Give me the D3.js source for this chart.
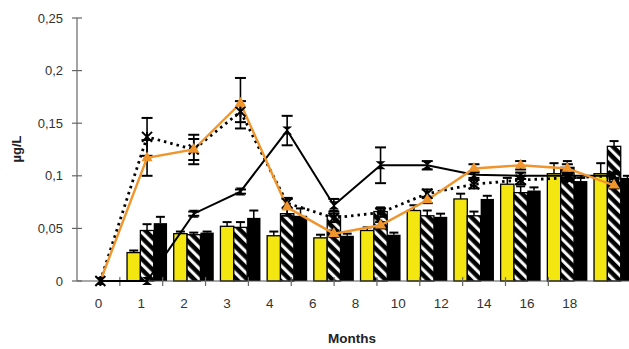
<!DOCTYPE html>
<html>
<head>
<meta charset="utf-8">
<script src="https://cdn.jsdelivr.net/npm/d3@7"></script>
<style>
body{margin:0;background:#fff;}
text{font-family:"Liberation Sans",Arial,sans-serif;}
</style>
</head>
<body>
<div id="canvas"></div>
<script>
var w = 629;
var h = 349;

// categories (months)
var months = ["0","1","2","3","4","6","8","10","12","14","16","18"];
var yTicks = [0, 0.05, 0.1, 0.15, 0.2, 0.25];

// bar series
var yellowVals = [0, 0.027, 0.045, 0.052, 0.043, 0.041, 0.048, 0.067, 0.078, 0.092, 0.102, 0.102];
var yellowErr  = [0, 0.002, 0.002, 0.004, 0.004, 0.003, 0.003, 0.005, 0.005, 0.006, 0.010, 0.010];
var hatchVals  = [0, 0.048, 0.044, 0.051, 0.064, 0.062, 0.066, 0.062, 0.062, 0.084, 0.108, 0.128];
var hatchErr   = [0, 0.006, 0.002, 0.005, 0.006, 0.005, 0.004, 0.005, 0.004, 0.006, 0.006, 0.005];
var blackVals  = [0, 0.055, 0.046, 0.060, 0.062, 0.043, 0.044, 0.061, 0.078, 0.086, 0.095, 0.098];
var blackErr   = [0, 0.006, 0.001, 0.007, 0.007, 0.002, 0.002, 0.003, 0.003, 0.003, 0.003, 0.002];

// line series
var orangeVals = [0, 0.117, 0.125, 0.169, 0.070, 0.045, 0.053, 0.077, 0.107, 0.110, 0.107, 0.091];
var orangeErr  = [0, 0.017, 0.014, 0.024, 0.008, 0.003, 0.003, 0.003, 0.004, 0.004, 0.004, 0.003];
var dottedVals = [0, 0.137, 0.125, 0.161, 0.074, 0.060, 0.065, 0.083, 0.092, 0.096, 0.098, 0.100];
var dottedErr  = [0, 0.018, 0.010, 0.010, 0.005, 0.004, 0.004, 0.004, 0.004, 0.004, 0.003, 0.003];
var solidVals  = [0, 0, 0.064, 0.085, 0.143, 0.072, 0.110, 0.110, 0.101, 0.100, 0.100, 0.100];
var solidErr   = [0, 0, 0.002, 0.002, 0.014, 0.006, 0.017, 0.004, 0.003, 0.003, 0.002, 0.002];

var axisX = 77;
var baseY = 281;
var topY = 18;

var svg = d3.select("#canvas").append("svg")
	.attr("width", w)
	.attr("height", h)
	.style("display","block");

// black bar with white "\" stripes
var defs = svg.append("defs");
var pat = defs.append("pattern")
	.attr("id","hatch")
	.attr("patternUnits","userSpaceOnUse")
	.attr("width",7.5)
	.attr("height",7.5)
	.attr("patternTransform","rotate(-45)");
pat.append("rect").attr("width",7.5).attr("height",7.5).attr("fill","#000");
pat.append("rect").attr("x",2).attr("width",3).attr("height",7.5).attr("fill","#fff");

// scales
var yScale = d3.scaleLinear().domain([0, 0.25]).range([baseY, topY]);
// data sits on a slightly wider band than the printed axis labels
var xData = d3.scaleBand().domain(months).range([axisX, axisX + 12*46.7]);
var xLab = d3.scaleBand().domain(months).range([axisX, axisX + 12*42.85]);
var xSub = d3.scaleBand().domain(["y","h","b"]).range([0, xData.bandwidth()]).paddingOuter(0.25);

var barData = [];
months.forEach(function(m, i){
	barData.push({m:m, s:"y", v:yellowVals[i], e:yellowErr[i]});
	barData.push({m:m, s:"h", v:hatchVals[i], e:hatchErr[i]});
	barData.push({m:m, s:"b", v:blackVals[i], e:blackErr[i]});
});
barData = barData.filter(function(d){ return d.v > 0; });

var fills = {y:"#f3e611", h:"url(#hatch)", b:"#000"};

// error bars behind bars
var bw = xSub.bandwidth();
var eb = svg.append("g");
barData.forEach(function(d){
	var cx = xData(d.m) + xSub(d.s) + bw/2;
	var y1 = yScale(d.v + d.e);
	eb.append("line").attr("x1",cx).attr("x2",cx).attr("y1",yScale(d.v)).attr("y2",y1)
		.attr("stroke","#000").attr("stroke-width",1.5);
	eb.append("line").attr("x1",cx-4.5).attr("x2",cx+4.5).attr("y1",y1).attr("y2",y1)
		.attr("stroke","#000").attr("stroke-width",2);
});

svg.append("g").selectAll("rect")
	.data(barData)
	.join("rect")
	.attr("x", function(d){ return xData(d.m) + xSub(d.s); })
	.attr("y", function(d){ return yScale(d.v); })
	.attr("width", bw)
	.attr("height", function(d){ return baseY - yScale(d.v); })
	.attr("fill", function(d){ return fills[d.s]; })
	.attr("stroke", function(d){ return d.s == "b" ? "none" : "#000"; })
	.attr("stroke-width", 1.3);

// axes
svg.append("line").attr("x1",axisX).attr("x2",axisX).attr("y1",topY).attr("y2",baseY)
	.attr("stroke","#666").attr("stroke-width",1.2);
svg.append("line").attr("x1",axisX).attr("x2",w).attr("y1",baseY).attr("y2",baseY)
	.attr("stroke","#555").attr("stroke-width",1.2);

var yAxisG = svg.append("g");
yTicks.forEach(function(t){
	var y = yScale(t);
	yAxisG.append("line").attr("x1",axisX-5).attr("x2",axisX+5).attr("y1",y).attr("y2",y)
		.attr("stroke","#666").attr("stroke-width",1.2);
	yAxisG.append("text").attr("x",63).attr("y",y+4.5)
		.attr("text-anchor","end").attr("font-size",13).attr("fill","#333")
		.text(d3.format(".2~f")(t).replace(".", ","));
});

var xAxisG = svg.append("g");
months.forEach(function(m, i){
	if(i > 0){
		var tx = xLab(m);
		xAxisG.append("line").attr("x1",tx).attr("x2",tx).attr("y1",baseY-4).attr("y2",baseY+5)
			.attr("stroke","#666").attr("stroke-width",1.2);
	}
	xAxisG.append("text").attr("x",xLab(m)+xLab.bandwidth()/2).attr("y",308)
		.attr("text-anchor","middle").attr("font-size",13.5).attr("fill","#333")
		.text(m);
});

svg.append("text").attr("x",352).attr("y",343).attr("text-anchor","middle")
	.attr("font-size",13.5).attr("font-weight","bold").attr("fill","#222").text("Months");
svg.append("text").attr("transform","translate(21,149) rotate(-90)").attr("text-anchor","middle")
	.attr("font-size",13).attr("font-weight","bold").attr("fill","#222").text("µg/L");

// lines
function cx(i){ return xData(months[i]) + xData.bandwidth()/2; }
var lineGen = d3.line().x(function(d){ return cx(d.i); }).y(function(d){ return yScale(d.v); });
function pts(vals, errs){
	return vals.map(function(v, i){ return {i:i, v:v, e:errs[i]}; });
}
function errBars(data, cap){
	var g = svg.append("g");
	data.filter(function(d){ return d.e > 0; }).forEach(function(d){
		var x = cx(d.i);
		var y0 = yScale(d.v - d.e), y1 = yScale(d.v + d.e);
		g.append("line").attr("x1",x).attr("x2",x).attr("y1",y0).attr("y2",y1).attr("stroke","#000").attr("stroke-width",1.6);
		g.append("line").attr("x1",x-cap).attr("x2",x+cap).attr("y1",y0).attr("y2",y0).attr("stroke","#000").attr("stroke-width",2);
		g.append("line").attr("x1",x-cap).attr("x2",x+cap).attr("y1",y1).attr("y2",y1).attr("stroke","#000").attr("stroke-width",2);
	});
}

var solidPts = pts(solidVals, solidErr);
var dottedPts = pts(dottedVals, dottedErr);
var orangePts = pts(orangeVals, orangeErr);

errBars(solidPts, 5.5);
errBars(dottedPts, 5.5);
errBars(orangePts, 5.5);

svg.append("path").datum(solidPts).attr("d", lineGen)
	.attr("fill","none").attr("stroke","#000").attr("stroke-width",2);
svg.append("path").datum(dottedPts).attr("d", lineGen)
	.attr("fill","none").attr("stroke","#000").attr("stroke-width",2.8)
	.attr("stroke-dasharray","2.5,4");
svg.append("path").datum(orangePts).attr("d", lineGen)
	.attr("fill","none").attr("stroke","#f0952c").attr("stroke-width",2.4);

// markers
svg.append("g").selectAll("path").data(solidPts).join("path")
	.attr("transform", function(d){ return "translate(" + cx(d.i) + "," + yScale(d.v) + ")"; })
	.attr("d","M-5,-4 L5,-4 L-5,4 L5,4 Z").attr("fill","#000");
svg.append("g").selectAll("path").data(dottedPts).join("path")
	.attr("transform", function(d){ return "translate(" + cx(d.i) + "," + yScale(d.v) + ")"; })
	.attr("d","M-5,-5 L5,5 M-5,5 L5,-5 M0,-5 L0,5").attr("stroke","#000").attr("stroke-width",2);
svg.append("g").selectAll("path").data(orangePts.filter(function(d){ return d.v > 0; })).join("path")
	.attr("transform", function(d){ return "translate(" + cx(d.i) + "," + yScale(d.v) + ")"; })
	.attr("d", d3.symbol().type(d3.symbolTriangle).size(55)).attr("fill","#f0952c");
</script>
</body>
</html>
